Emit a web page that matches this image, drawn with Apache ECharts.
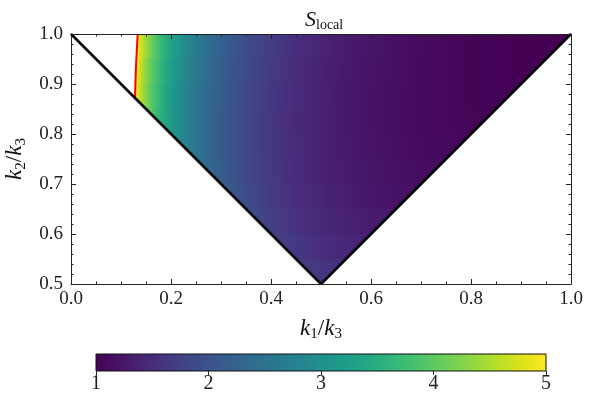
<!DOCTYPE html>
<html><head><meta charset="utf-8">
<script src="https://cdn.jsdelivr.net/npm/echarts@6/dist/echarts.min.js"></script>
<style>html,body{margin:0;padding:0;background:#fff}#c{width:593px;height:409px}</style>
</head><body><div id="c"></div><script>
// ---- data ----
const k1Columns = [0.13,0.14,0.15,0.16,0.18,0.20,0.23,0.26,0.30,0.35,0.40,0.45,0.50,0.55,0.60,0.70,0.80,0.90,1.00];
const k2Bands = [[0.95,1.00],[0.90,0.95],[0.85,0.90],[0.80,0.85],[0.75,0.80],[0.70,0.75],[0.65,0.70],[0.60,0.65],[0.55,0.60],[0.50,0.55]];
const sBand1 = [5.07,4.71,4.40,4.13,3.67,3.31,2.88,2.56,2.23,1.92,1.70,1.53,1.40,1.30,1.22,1.11,1.04,1.01,1.00];
const sBand2 = [4.97,4.62,4.31,4.04,3.60,3.24,2.83,2.51,2.18,1.89,1.67,1.51,1.38,1.28,1.21,1.10,1.04,1.01,1.01];
const sBand3 = [4.90,4.55,4.25,3.99,3.55,3.20,2.79,2.47,2.15,1.86,1.65,1.49,1.37,1.27,1.20,1.10,1.04,1.02,null];
const sBand4 = [null,null,4.22,3.95,3.52,3.17,2.76,2.45,2.14,1.85,1.64,1.48,1.36,1.27,1.20,1.10,1.05,null,null];
const sBand5 = [null,null,null,null,null,3.17,2.76,2.45,2.14,1.85,1.64,1.49,1.37,1.28,1.21,1.11,1.06,null,null];
const sBand6 = [null,null,null,null,null,null,2.79,2.47,2.16,1.87,1.66,1.50,1.38,1.29,1.22,1.13,1.09,null,null];
const sBand7 = [null,null,null,null,null,null,null,null,2.20,1.91,1.69,1.53,1.41,1.32,1.25,1.16,null,null,null];
const sBand8 = [null,null,null,null,null,null,null,null,null,1.96,1.74,1.58,1.46,1.37,1.30,1.21,null,null,null];
const sBand9 = [null,null,null,null,null,null,null,null,null,null,1.82,1.65,1.52,1.43,1.36,null,null,null,null];
const sBand10 = [null,null,null,null,null,null,null,null,null,null,null,1.74,1.61,1.51,null,null,null,null,null];
const sBands = [sBand1,sBand2,sBand3,sBand4,sBand5,sBand6,sBand7,sBand8,sBand9,sBand10];
const triangleK1 = [0, 0.5, 1];
const triangleK2 = [1, 0.5, 1];
const contourK1 = [0.128, 0.1297, 0.1333];   // S_local = 5 contour
const contourK2 = [0.872, 0.93, 1.0];
const colorbarRange = [1, 5];
const viridis = ['#440154','#471365','#482475','#463480','#414487','#3b528b','#355f8d','#2f6c8e','#2a788e','#25848e','#21918c','#1e9c89','#22a884','#2fb47c','#44bf70','#5ec962','#7ad151','#9bd93c','#bddf26','#dfe318','#fde725'];

// ---- helpers ----
function hex2rgb(h){return [parseInt(h.substr(1,2),16),parseInt(h.substr(3,2),16),parseInt(h.substr(5,2),16)];}
function colorFor(s){
  let t=(s-colorbarRange[0])/(colorbarRange[1]-colorbarRange[0]);
  t=Math.max(0,Math.min(1,t));
  const p=t*(viridis.length-1), i=Math.min(Math.floor(p),viridis.length-2), f=p-i;
  const a=hex2rgb(viridis[i]), b=hex2rgb(viridis[i+1]);
  return 'rgb('+a.map((v,k)=>Math.round(v+(b[k]-v)*f)).join(',')+')';
}
const region = [
  [contourK1[2],contourK2[2]],
  [triangleK1[2],triangleK2[2]],
  [triangleK1[1],triangleK2[1]],
  [contourK1[0],contourK2[0]],
  [contourK1[1],contourK2[1]]
];
function clipEdge(pts, keep, yE){
  const out=[];
  for(let i=0;i<pts.length;i++){
    const c=pts[i], p=pts[(i+pts.length-1)%pts.length];
    const ci=keep(c[1]), pi=keep(p[1]);
    const cross=()=>{const t=(yE-p[1])/(c[1]-p[1]);return [p[0]+t*(c[0]-p[0]),yE];};
    if(ci){ if(!pi) out.push(cross()); out.push(c);} else if(pi) out.push(cross());
  }
  return out;
}
function bandPoly(lo,hi){ return clipEdge(clipEdge(region,y=>y>=lo,lo),y=>y<=hi,hi); }

const FONT='Liberation Serif';
function frameAxis(extra){
  return Object.assign({
    axisLine:{show:true,onZero:false,lineStyle:{color:'#222',width:1}},
    axisTick:{show:true,inside:true,length:5,lineStyle:{color:'#222',width:1}},
    splitLine:{show:false}, minorSplitLine:{show:false}, z:10
  },extra);
}
const nameRich = {
  i:{fontFamily:FONT,fontStyle:'italic',fontSize:23,color:'#111',lineHeight:26,verticalAlign:'middle'},
  n:{fontFamily:FONT,fontSize:23,color:'#111',lineHeight:26,verticalAlign:'middle'},
  s:{fontFamily:FONT,fontSize:15,color:'#111',lineHeight:14,verticalAlign:'bottom'}
};

const chart = echarts.init(document.getElementById('c'),null,{renderer:'canvas'});
chart.setOption({
  animation:false,
  backgroundColor:'#fff',
  title:{text:'{i|S}{s|local}',left:300,top:3,
    textStyle:{fontWeight:'normal',rich:{
      i:{fontFamily:FONT,fontStyle:'italic',fontWeight:'normal',fontSize:22,color:'#111',lineHeight:24,verticalAlign:'middle'},
      s:{fontFamily:FONT,fontWeight:'normal',fontSize:14,color:'#111',lineHeight:13,verticalAlign:'bottom'}}}},
  grid:[
    {left:71,right:22,top:34,bottom:125,outerBoundsMode:'none',containLabel:false},
    {left:96,right:47,top:354,bottom:38,outerBoundsMode:'none',containLabel:false}
  ],
  xAxis:[
    frameAxis({gridIndex:0,type:'value',min:0,max:1,interval:0.2,position:'bottom',
      minorTick:{show:true,splitNumber:4,length:2.5,lineStyle:{color:'#222',width:1}},
      axisLabel:{fontFamily:FONT,fontSize:19,color:'#222',margin:6,formatter:v=>v.toFixed(1)},
      name:'{i|k}{s|1}{n|/}{i|k}{s|3}',nameLocation:'middle',nameGap:32,nameTextStyle:{rich:nameRich}}),
    frameAxis({gridIndex:0,type:'value',min:0,max:1,interval:0.2,position:'top',
      minorTick:{show:true,splitNumber:4,length:2.5,lineStyle:{color:'#222',width:1}},axisLabel:{show:false}}),
    {gridIndex:1,type:'value',min:colorbarRange[0],max:colorbarRange[1],interval:1,position:'bottom',
      axisLine:{show:false},axisTick:{show:true,inside:false,length:4,lineStyle:{color:'#222'}},
      splitLine:{show:false},axisLabel:{fontFamily:FONT,fontSize:20,color:'#222',margin:3},z:10}
  ],
  yAxis:[
    frameAxis({gridIndex:0,type:'value',min:0.5,max:1,interval:0.1,position:'left',
      minorTick:{show:true,splitNumber:5,length:2.5,lineStyle:{color:'#222',width:1}},
      axisLabel:{fontFamily:FONT,fontSize:19,color:'#222',margin:8,formatter:v=>v.toFixed(1)},
      name:'{i|k}{s|2}{n|/}{i|k}{s|3}',nameLocation:'middle',nameGap:37,nameRotate:90,nameTextStyle:{rich:nameRich}}),
    frameAxis({gridIndex:0,type:'value',min:0.5,max:1,interval:0.1,position:'right',
      minorTick:{show:true,splitNumber:5,length:2.5,lineStyle:{color:'#222',width:1}},axisLabel:{show:false}}),
    {gridIndex:1,type:'value',min:0,max:1,show:false}
  ],
  series:[
    {
      type:'custom',xAxisIndex:0,yAxisIndex:0,coordinateSystem:'cartesian2d',clip:true,z:2,
      data:k2Bands.map((b,i)=>[i]),
      renderItem:function(params,api){
        const idx=params.dataIndex, band=k2Bands[idx], row=sBands[idx];
        const poly=bandPoly(band[0],band[1]);
        if(poly.length<3) return null;
        const pts=poly.map(p=>api.coord(p));
        const cols=[]; k1Columns.forEach((c,j)=>{ if(row[j]!=null) cols.push([c,row[j]]); });
        const x0=api.coord([cols[0][0],0.75])[0], x1=api.coord([cols[cols.length-1][0],0.75])[0];
        const stops=cols.map(c=>({offset:(api.coord([c[0],0.75])[0]-x0)/(x1-x0),color:colorFor(c[1])}));
        const grad=new echarts.graphic.LinearGradient(x0,0,x1,0,stops,true);
        return {type:'polygon',shape:{points:pts},style:{fill:grad,stroke:grad,lineWidth:0.8}};
      }
    },
    {
      type:'line',xAxisIndex:0,yAxisIndex:0,z:5,symbol:'none',silent:true,
      data:triangleK1.map((x,i)=>[x,triangleK2[i]]),
      lineStyle:{color:'#000',width:2.6}
    },
    {
      type:'line',xAxisIndex:0,yAxisIndex:0,z:4,symbol:'none',silent:true,
      data:contourK1.map((x,i)=>[x,contourK2[i]]),
      lineStyle:{color:'#ff0000',width:2}
    },
    {
      type:'custom',xAxisIndex:2,yAxisIndex:2,coordinateSystem:'cartesian2d',z:2,
      data:[[colorbarRange[0],colorbarRange[1]]],
      renderItem:function(params,api){
        const a=api.coord([colorbarRange[0],0]), b=api.coord([colorbarRange[1],1]);
        const stops=viridis.map((c,i)=>({offset:i/(viridis.length-1),color:c}));
        return {type:'rect',shape:{x:a[0],y:b[1],width:b[0]-a[0],height:a[1]-b[1]},
          style:{fill:new echarts.graphic.LinearGradient(a[0],0,b[0],0,stops,true),stroke:'#111',lineWidth:1}};
      }
    }
  ]
});
</script></body></html>
